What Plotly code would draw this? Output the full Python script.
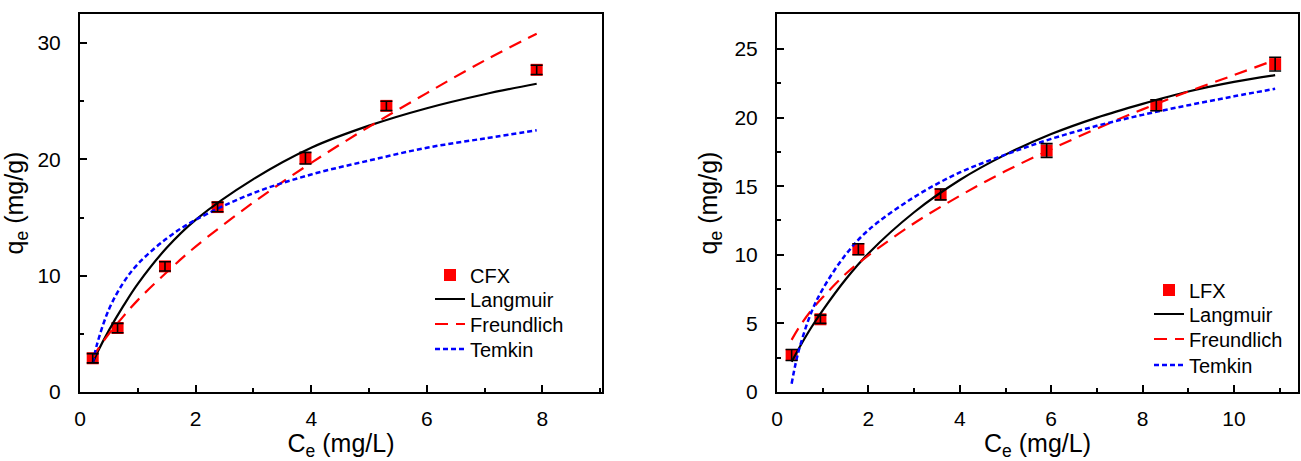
import plotly.graph_objects as go

# ---------------- data ----------------
# Left panel: CFX
cfx_ce = [0.22, 0.65, 1.47, 2.38, 3.9, 5.3, 7.9]
cfx_qe = [2.9, 5.5, 10.8, 15.9, 20.1, 24.6, 27.7]
cfx_err = [0.4, 0.4, 0.4, 0.4, 0.5, 0.4, 0.4]

cfx_lang_x = [0.22, 0.3, 0.5, 0.75, 1.0, 1.5, 2.0, 3.0, 4.0, 5.0, 6.0, 7.0, 7.9]
cfx_lang_y = [2.5, 3.4, 5.3, 7.4, 9.3, 12.4, 14.8, 18.3, 21.0, 22.9, 24.4, 25.6, 26.5]

cfx_freu_x = [0.22, 0.3, 0.5, 0.75, 1.0, 1.5, 2.0, 3.0, 4.0, 5.0, 6.0, 7.0, 7.9]
cfx_freu_y = [2.9, 3.6, 5.0, 6.5, 7.9, 10.3, 12.5, 16.3, 19.7, 22.8, 25.7, 28.5, 30.8]

cfx_temk_x = [0.22, 0.3, 0.5, 0.75, 1.0, 1.5, 2.0, 3.0, 4.0, 5.0, 6.0, 7.0, 7.9]
cfx_temk_y = [2.5, 4.2, 7.1, 9.4, 11.0, 13.2, 14.8, 17.1, 18.7, 19.9, 21.0, 21.8, 22.5]

# Right panel: LFX
lfx_ce = [0.32, 0.95, 1.78, 3.58, 5.9, 8.3, 10.9]
lfx_qe = [2.7, 5.3, 10.4, 14.4, 17.6, 20.9, 23.9]
lfx_err = [0.4, 0.3, 0.4, 0.4, 0.5, 0.4, 0.5]

lfx_lang_x = [0.32, 0.5, 0.75, 1.0, 1.5, 2.0, 3.0, 4.0, 5.0, 6.0, 7.0, 8.0, 9.0, 10.0, 10.9]
lfx_lang_y = [2.2, 3.3, 4.7, 5.95, 8.2, 10.1, 13.1, 15.45, 17.3, 18.8, 20.0, 21.0, 21.9, 22.6, 23.1]

lfx_freu_x = [0.32, 0.5, 0.75, 1.0, 1.5, 2.0, 3.0, 4.0, 5.0, 6.0, 7.0, 8.0, 9.0, 10.0, 10.9]
lfx_freu_y = [3.8, 4.8, 5.95, 6.9, 8.6, 9.95, 12.3, 14.3, 16.1, 17.7, 19.2, 20.6, 21.9, 23.1, 24.2]

lfx_temk_x = [0.32, 0.4, 0.5, 0.75, 1.0, 1.5, 2.0, 3.0, 4.0, 5.0, 6.0, 7.0, 8.0, 9.0, 10.0, 10.9]
lfx_temk_y = [0.6, 1.96, 3.3, 5.8, 7.5, 10.0, 11.8, 14.2, 16.0, 17.3, 18.45, 19.4, 20.2, 20.9, 21.55, 22.1]

series_names = ["Langmuir", "Freundlich", "Temkin"]
x_label = "C<sub>e</sub> (mg/L)"
y_label = "q<sub>e</sub> (mg/g)"

# ---------------- figure ----------------
FONT = "Liberation Sans, Arial, sans-serif"
RED = "#ff0000"
BLUE = "#0000ff"
W, H = 1301, 461

fig = go.Figure()


def add_panel(xa, ya, legs, name, ce, qe, err, lx, ly, fx, fy, tx, ty):
    fig.add_trace(go.Scatter(
        x=ce, y=qe, mode="markers", name=name, xaxis=xa, yaxis=ya, legend=legs[0],
        marker=dict(symbol="square", size=12, color=RED),
    ))
    fig.add_trace(go.Scatter(
        x=lx, y=ly, mode="lines", name=series_names[0], xaxis=xa, yaxis=ya, legend=legs[1],
        line=dict(color="black", width=2.2, shape="spline"),
    ))
    fig.add_trace(go.Scatter(
        x=fx, y=fy, mode="lines", name=series_names[1], xaxis=xa, yaxis=ya, legend=legs[2],
        line=dict(color=RED, width=2.2, dash="13px,8px", shape="spline"),
    ))
    fig.add_trace(go.Scatter(
        x=tx, y=ty, mode="lines", name=series_names[2], xaxis=xa, yaxis=ya, legend=legs[3],
        line=dict(color=BLUE, width=2.5, dash="5px,3px", shape="spline"),
    ))
    # error bars drawn on top of the markers
    fig.add_trace(go.Scatter(
        x=ce, y=qe, mode="markers", showlegend=False, xaxis=xa, yaxis=ya, hoverinfo="skip",
        marker=dict(size=1, color="rgba(0,0,0,0)"),
        error_y=dict(type="data", array=err, visible=True, color="black",
                     thickness=1.6, width=6),
    ))


add_panel("x", "y", ["legend", "legend2", "legend3", "legend4"], "CFX", cfx_ce, cfx_qe, cfx_err,
          cfx_lang_x, cfx_lang_y, cfx_freu_x, cfx_freu_y, cfx_temk_x, cfx_temk_y)
add_panel("x2", "y2", ["legend5", "legend6", "legend7", "legend8"], "LFX", lfx_ce, lfx_qe, lfx_err,
          lfx_lang_x, lfx_lang_y, lfx_freu_x, lfx_freu_y, lfx_temk_x, lfx_temk_y)

ydom = [69 / H, 447 / H]


def axis_common(rng, dtick, minor_dtick, domain, anchor, standoff):
    return dict(
        range=rng, domain=domain, anchor=anchor, automargin=False,
        showline=True, linecolor="black", linewidth=2, mirror=True,
        showgrid=False, zeroline=False,
        ticks="inside", ticklen=7, tickwidth=2, tickcolor="black",
        dtick=dtick, tick0=0,
        minor=dict(ticks="inside", ticklen=4, tickwidth=2, tickcolor="black",
                   dtick=minor_dtick, tick0=0, showgrid=False),
        tickfont=dict(family=FONT, size=21, color="black"),
        ticklabelstandoff=standoff,
    )


title_font = dict(family=FONT, size=25, color="black")

xa1 = axis_common([0, 9.03], 2, 1, [80 / W, 602 / W], "y", 7)
xa1["title"] = dict(text=x_label, font=title_font, standoff=15)
ya1 = axis_common([0, 32.5], 10, 5, ydom, "x", 13)
ya1["title"] = dict(text=y_label, font=title_font, standoff=10)

xa2 = axis_common([0, 11.4], 2, 1, [777 / W, 1298 / W], "y2", 7)
xa2["title"] = dict(text=x_label, font=title_font, standoff=15)
ya2 = axis_common([0, 27.55], 5, 2.5, ydom, "x2", 13)
ya2["title"] = dict(text=y_label, font=title_font, standoff=10)


def leg(xpx, ypx):
    return dict(
        x=xpx / W, y=(H - ypx) / H, xanchor="left", yanchor="middle",
        font=dict(family=FONT, size=20, color="black"),
        bgcolor="rgba(0,0,0,0)", borderwidth=0,
    )


left_rows = [275, 299, 324, 349]
right_rows = [290, 314, 339, 365]
legends = {}
for i, r in enumerate(left_rows):
    legends["legend" if i == 0 else f"legend{i + 1}"] = leg(430, r)
for i, r in enumerate(right_rows):
    legends[f"legend{i + 5}"] = leg(1149, r)

fig.update_layout(
    width=W, height=H,
    margin=dict(l=0, r=0, t=0, b=0, autoexpand=False),
    paper_bgcolor="white", plot_bgcolor="white",
    font=dict(family=FONT, color="black"),
    showlegend=True,
    xaxis=xa1, yaxis=ya1, xaxis2=xa2, yaxis2=ya2,
    **legends,
)

fig.write_html("out.html")
